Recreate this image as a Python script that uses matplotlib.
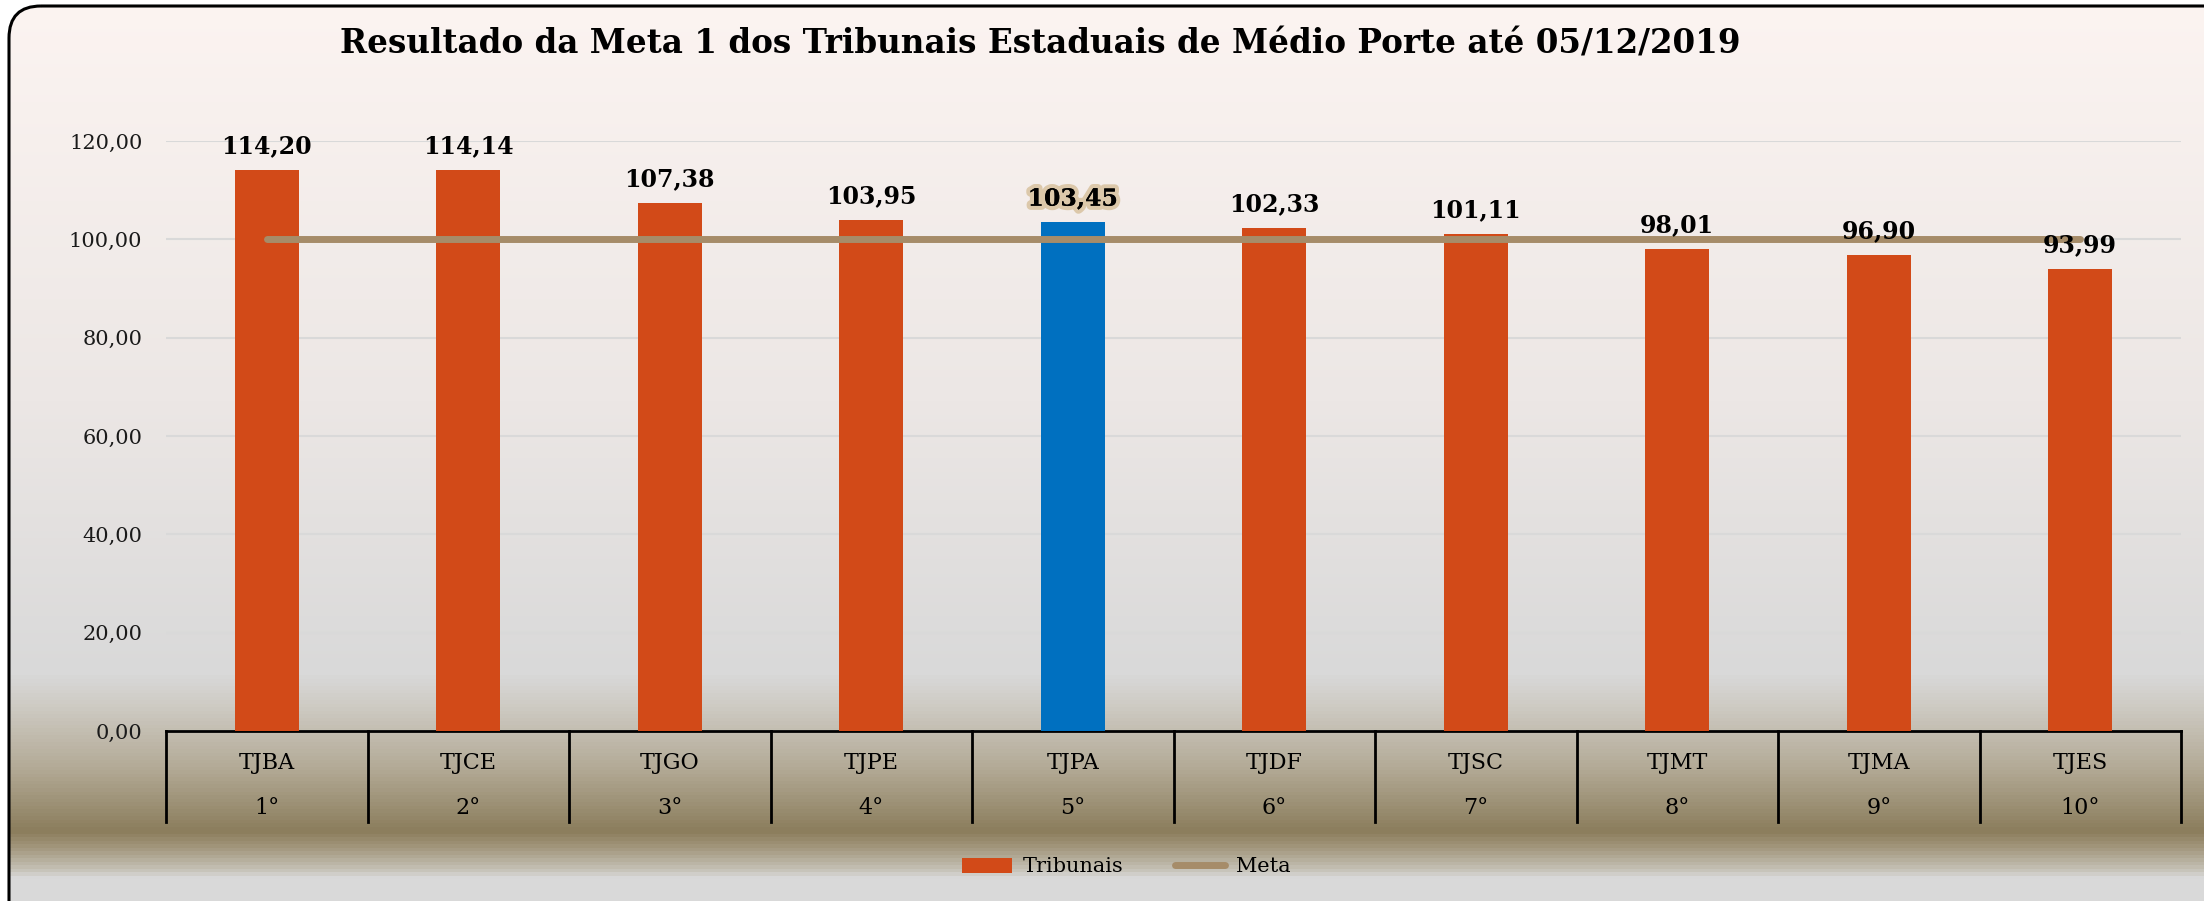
import numpy as np
import matplotlib.pyplot as plt
from matplotlib.colors import LinearSegmentedColormap
from matplotlib.patches import FancyBboxPatch, Patch
from matplotlib.lines import Line2D
import matplotlib.patheffects as pe
import matplotlib.transforms as mtransforms

# --- dados ---
tribunais = ["TJBA", "TJCE", "TJGO", "TJPE", "TJPA", "TJDF", "TJSC", "TJMT", "TJMA", "TJES"]
posicoes = ["1°", "2°", "3°", "4°", "5°", "6°", "7°", "8°", "9°", "10°"]
valores = [114.20, 114.14, 107.38, 103.95, 103.45, 102.33, 101.11, 98.01, 96.90, 93.99]
meta = [100, 100, 100, 100, 100, 100, 100, 100, 100, 100]
destaque = "TJPA"

laranja = "#D24A18"
azul = "#0070C0"
cor_meta = "#A68C69"
fonte = "DejaVu Serif"

W, H = 2204, 901
fig = plt.figure(figsize=(W / 100, H / 100), dpi=100)
fig.patch.set_facecolor("white")

# --- fundo com degrade ---
bg = fig.add_axes([0, 0, 1, 1], zorder=-10)
bg.set_xlim(0, W)
bg.set_ylim(H, 0)
bg.axis("off")
paradas = [(0, "#FCF4F1"), (400, "#ECE7E5"), (675, "#D9D9D9"), (705, "#CFCCC5"),
           (770, "#B3AA96"), (833, "#8B7D5C"), (848, "#A09479"), (872, "#C6C2B7"),
           (880, "#D9D9D9"), (901, "#D9D9D9")]
cmap = LinearSegmentedColormap.from_list("fundo", [(p / H, c) for p, c in paradas])
grad = np.linspace(0, 1, H).reshape(-1, 1)
img = bg.imshow(grad, cmap=cmap, aspect="auto", extent=(0, W, H, 0), vmin=0, vmax=1)
moldura = FancyBboxPatch((9, 6), W + 60, H + 40, boxstyle="round,pad=0,rounding_size=32",
                         facecolor="none", edgecolor="black", linewidth=2.2)
bg.add_patch(moldura)
img.set_clip_path(moldura)

# --- grafico ---
ax = fig.add_axes([166 / W, 1 - 731 / H, (2181 - 166) / W, (731 - 141) / H])
ax.set_facecolor("none")
x = np.arange(len(tribunais))
cores = [azul if t == destaque else laranja for t in tribunais]
ax.bar(x, valores, width=0.32, color=cores, zorder=3)
ax.plot(x, meta, color=cor_meta, linewidth=5, solid_capstyle="round", zorder=4)

ax.set_xlim(-0.5, len(tribunais) - 0.5)
ax.set_ylim(0, 120)
ax.set_yticks(np.arange(0, 121, 20))
ax.set_yticklabels([f"{v:.2f}".replace(".", ",") for v in np.arange(0, 121, 20)],
                   fontsize=15, family=fonte, color="#1A1A1A")
ax.tick_params(axis="y", length=0, pad=17)
ax.set_xticks([])
ax.grid(axis="y", color="#D9D9D9", linewidth=1.5, zorder=0)
for s in ["left", "right", "top"]:
    ax.spines[s].set_visible(False)
ax.spines["bottom"].set_linewidth(2)
ax.spines["bottom"].set_color("black")

# rotulos de dados
for xi, v, t in zip(x, valores, tribunais):
    txt = ax.annotate(f"{v:.2f}".replace(".", ","), (xi, v), xytext=(0, 12),
                      textcoords="offset points", ha="center", va="baseline",
                      fontsize=17, fontweight="bold", family=fonte, zorder=5)
    if t == destaque:
        txt.set_path_effects([pe.withStroke(linewidth=6, foreground="#DCC8AA"), pe.Normal()])

# tabela do eixo x
trans = mtransforms.blended_transform_factory(ax.transData, ax.transAxes)
for b in np.arange(-0.5, len(tribunais), 1.0):
    ax.plot([b, b], [0, -0.155], transform=trans, color="black", linewidth=2, clip_on=False)
for xi, t, p in zip(x, tribunais, posicoes):
    ax.text(xi, -0.055, t, transform=trans, ha="center", va="center", fontsize=16, family=fonte)
    ax.text(xi, -0.13, p, transform=trans, ha="center", va="center", fontsize=16, family=fonte)

# titulo
fig.text(0.472, 1 - 44 / H, "Resultado da Meta 1 dos Tribunais Estaduais de Médio Porte até 05/12/2019",
         ha="center", va="center", fontsize=23.5, fontweight="bold", family=fonte)

# legenda
handles = [Patch(facecolor=laranja, label="Tribunais"),
           Line2D([0], [0], color=cor_meta, linewidth=5, solid_capstyle="round", label="Meta")]
fig.legend(handles=handles, loc="center", bbox_to_anchor=(0.511, 1 - 867 / H), ncol=2,
           frameon=False, prop={"family": fonte, "size": 15}, handlelength=2.4,
           columnspacing=2.5, handletextpad=0.5)

fig.savefig("out.png", dpi=100)
